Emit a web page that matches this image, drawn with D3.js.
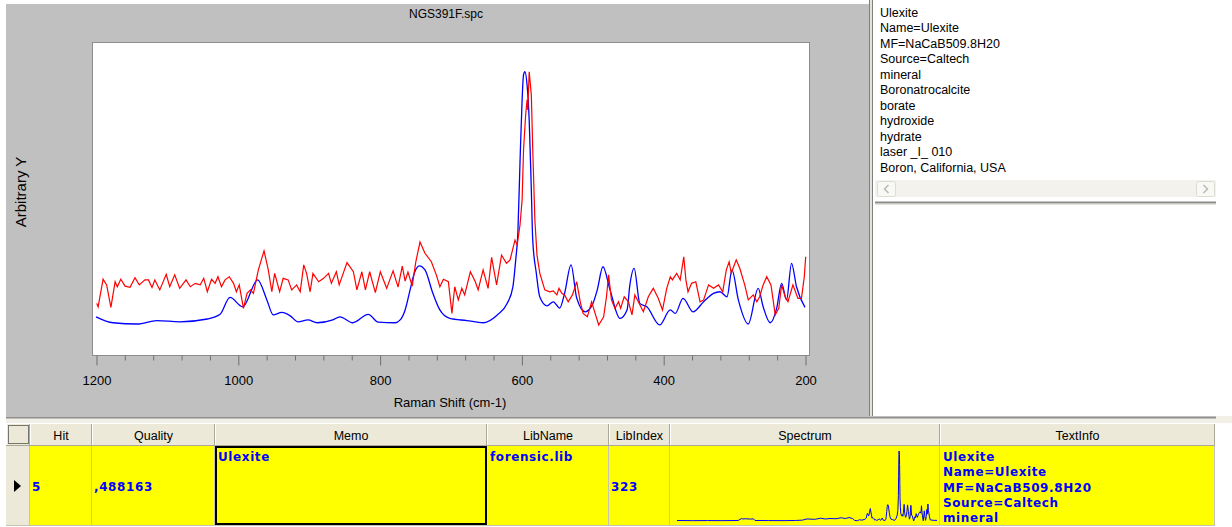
<!DOCTYPE html>
<html>
<head>
<meta charset="utf-8">
<script src="https://cdn.jsdelivr.net/npm/d3@7"></script>
<style>
  html, body { margin: 0; padding: 0; background: #fff; overflow: hidden; }
  svg { display: block; }
  text { font-family: "Liberation Sans", Arial, sans-serif; font-size: 12px; fill: #000; }
  .cell { font-family: "DejaVu Sans", Verdana, sans-serif; font-weight: bold; font-size: 12px; fill: #0000ff; letter-spacing: 0.6px; }
</style>
</head>
<body>
<svg id="chart" width="1232" height="527"></svg>
<script>
// Measured spectrum (red), Raman shift in cm-1 and arbitrary intensity
const sampleWave = [1199,1197,1190,1185,1179,1173,1170,1165,1159,1152,1145,1139,1131,1126,1121,1117,1110,1101,1096,1089,1082,1073,1067,1060,1053,1048,1043,1037,1032,1028,1023,1018,1012,1006,1002,998,992,987,982,978,971,963,957,952,948,941,936,929,924,917,912,907,903,898,894,886,879,872,868,861,857,846,837,832,825,820,814,806,799,790,781,774,768,764,760,754,749,743,736,727,720,715,710,703,698,694,689,684,680,672,665,661,654,647,642,635,628,621,616,609,606,602,599,597,594,592,591,589,586,584,581,578,574,567,560,555,550,547,543,539,534,528,522,517,513,507,501,496,491,484,480,477,473,468,463,460,455,449,444,440,434,428,421,414,407,401,395,390,387,381,376,371,368,365,360,354,348,343,336,329,322,316,311,307,304,297,292,285,280,273,268,264,259,254,248,242,237,233,228,224,217,210,205,201,199];
const sampleInt = [16.5,15.4,24.2,22.4,15.2,23.4,21.8,24.2,22.0,21.6,24.7,22.4,24.0,24.0,21.6,24.0,20.8,25.8,21.8,25.6,21.3,24.0,21.8,22.9,22.4,24.5,20.2,24.2,22.9,25.0,21.8,24.0,25.0,22.9,20.2,22.4,14.9,19.7,20.8,19.7,27.2,33.3,27.2,20.2,26.1,20.2,24.5,24.0,20.8,22.4,20.2,28.8,26.1,20.2,26.1,23.4,24.5,26.1,22.9,26.6,22.4,29.5,26.6,20.8,26.6,20.8,26.6,19.9,26.6,21.3,26.9,21.7,28.4,23.6,26.5,22.0,29.7,36.1,32.5,29.8,25.6,21.8,24.2,23.4,13.3,21.8,17.6,21.3,19.2,26.6,23.4,20.8,27.2,21.3,31.2,22.4,31.9,29.3,30.4,36.7,35.1,41.5,49.5,65.5,76.7,81.5,78.3,90.5,83.1,65.5,43.1,31.9,26.1,20.8,20.2,20.5,19.2,21.3,19.7,19.2,17.0,19.2,23.4,17.0,13.3,12.2,17.0,13.3,9.6,12.2,18.6,25.6,17.6,14.9,17.0,14.9,18.6,17.0,12.8,19.2,16.5,13.8,18.6,21.3,18.1,14.4,21.3,25.0,24.0,26.1,24.0,31.4,24.0,20.2,22.9,23.4,17.0,17.6,22.4,21.3,22.4,20.2,27.2,29.8,26.1,30.4,27.7,22.4,17.6,19.2,17.0,18.6,22.4,25.0,22.4,12.8,14.9,22.4,18.6,17.0,22.4,18.1,18.1,25.0,31.4];

// Library spectrum of the hit (blue)
const libWave = [1200,1176,1142,1114,1082,1043,1025,1011,993,972,959,950,938,926,915,901,888,866,856,838,816,802,778,771,764,757,751,744,736,725,715,701,677,654,634,620,612,608,605,602,599,597,595,592,589,586,584,579,574,564,555,546,539,530,522,510,500,493,485,475,461,451,447,441,433,423,405,390,383,372,358,343,329,320,310,303,294,280,266,259,249,240,233,226,219,212,200];
const libInt = [12.2,10.3,9.9,11.0,10.6,11.5,13.0,18.4,15.4,24.0,17.6,12.8,13.6,12.5,10.6,11.2,10.3,11.2,12.2,10.3,13.0,10.5,10.3,11.2,14.4,20.8,26.2,28.5,27.2,19.8,14.4,11.7,11.0,10.3,12.8,16.5,21.8,30.4,39.0,61.3,81.5,89.5,90.5,86.3,75.0,52.7,36.7,26.2,18.5,15.7,17.0,15.0,19.8,28.8,18.2,13.8,16.0,20.8,28.2,20.8,11.7,14.4,22.4,27.7,16.5,15.4,9.6,14.4,13.3,18.1,13.8,17.0,19.7,20.2,18.6,27.2,17.6,9.9,21.3,15.4,10.3,14.9,22.9,17.6,29.3,21.8,15.2];

// Library spectrum outside the 1200-200 window (shown only in the thumbnail)
const libHighWave = [3500,3300,3100,2900,2700,2660,2640,2600,2540,2500,2480,2300,2100,1950,1860,1800,1700,1620,1560,1500,1420,1350,1300,1250,1210];
const libHighInt = [10.2,10.0,10.1,10.0,10.2,12.3,12.0,12.2,11.8,12.1,10.2,10.1,10.0,10.2,10.6,12.0,11.5,12.8,11.9,12.5,12.2,13.4,12.4,13.6,12.6];
const libLowWave = [190,150,100];
const libLowInt = [11.0,10.4,10.3];

const xTicks = [1200, 1000, 800, 600, 400, 200];
const fileName = "NGS391F.spc";
const xLabel = "Raman Shift (cm-1)";
const yLabel = "Arbitrary Y";

// Text info of the library entry
const infoLines = ["Ulexite", "Name=Ulexite", "MF=NaCaB509.8H20", "Source=Caltech", "mineral",
  "Boronatrocalcite", "borate", "hydroxide", "hydrate", "laser _I_ 010", "Boron, California, USA"];

// Hit list
const columnNames = ["", "Hit", "Quality", "Memo", "LibName", "LibIndex", "Spectrum", "TextInfo"];
const hitValues = ["5", ",488163", "Ulexite", "forensic.lib", "323"];

const svg = d3.select("#chart");

// ---------- spectrum panel ----------
const plot = { left: 92, right: 809, top: 42, bottom: 355 };
svg.append("rect").attr("x", 6).attr("y", 4).attr("width", 863).attr("height", 412).attr("fill", "#c0c0c0");
svg.append("rect")
  .attr("x", plot.left + 0.5).attr("y", plot.top + 0.5)
  .attr("width", plot.right - plot.left).attr("height", plot.bottom - plot.top)
  .attr("fill", "#fff").attr("stroke", "#8c8c8c");

const x = d3.scaleLinear().domain([1200, 200]).range([96, 805]);
const y = d3.scaleLinear().domain([0, 100]).range([plot.bottom, plot.top]);

const axis = d3.axisBottom(x)
  .tickValues(d3.range(1200, 199, -40))
  .tickSize(10).tickPadding(10)
  .tickFormat(d => xTicks.includes(d) ? d : "");
const gx = svg.append("g").attr("transform", `translate(0.5,${plot.bottom + 0.5})`).call(axis);
gx.select(".domain").remove();
gx.selectAll(".tick line").attr("stroke", "#707070")
  .filter(d => !xTicks.includes(d)).attr("y2", 5);
gx.selectAll(".tick text")
  .style("font-family", '"Liberation Sans", Arial, sans-serif').style("font-size", "13px").attr("fill", "#000");

svg.append("text").attr("x", 446).attr("y", 18).attr("text-anchor", "middle").text(fileName);
svg.append("text").attr("x", 450).attr("y", 407).attr("text-anchor", "middle")
  .style("font-size", "13px").text(xLabel);
svg.append("text").attr("transform", "translate(26,192) rotate(-90)").attr("text-anchor", "middle")
  .style("font-size", "15px").text(yLabel);

const libPts = libWave.map((w, i) => [w, libInt[i]]);
const samplePts = sampleWave.map((w, i) => [w, sampleInt[i]]);

const clip = svg.append("clipPath").attr("id", "plotClip").append("rect")
  .attr("x", plot.left + 1).attr("y", plot.top + 1)
  .attr("width", plot.right - plot.left - 1).attr("height", plot.bottom - plot.top - 1);

const gLines = svg.append("g").attr("clip-path", "url(#plotClip)");
gLines.append("path").datum(libPts)
  .attr("d", d3.line().x(d => x(d[0])).y(d => y(d[1])).curve(d3.curveMonotoneX))
  .attr("fill", "none").attr("stroke", "#0000ff").attr("stroke-width", 1.3);
gLines.append("path").datum(samplePts)
  .attr("d", d3.line().x(d => x(d[0])).y(d => y(d[1])))
  .attr("fill", "none").attr("stroke", "#ff0000").attr("stroke-width", 1.2);

// ---------- info panel ----------
svg.append("rect").attr("x", 869).attr("y", 0).attr("width", 4).attr("height", 417).attr("fill", "#e4e2da");
svg.append("line").attr("x1", 869.5).attr("x2", 869.5).attr("y1", 0).attr("y2", 417).attr("stroke", "#808080");
svg.append("line").attr("x1", 872.5).attr("x2", 872.5).attr("y1", 0).attr("y2", 417).attr("stroke", "#808080");

svg.append("g").selectAll("text").data(infoLines).join("text")
  .attr("x", 880).attr("y", (d, i) => 17 + i * 15.45)
  .style("font-size", "12.5px").text(d => d);

// horizontal scroll bar
svg.append("rect").attr("x", 875).attr("y", 180).attr("width", 341).attr("height", 17).attr("fill", "#f3f2ec");
[877, 1196].forEach((bx, i) => {
  svg.append("rect").attr("x", bx + 0.5).attr("y", 181.5).attr("width", 18).attr("height", 15)
    .attr("rx", 2).attr("fill", "#f8f8f4").attr("stroke", "#dedcd2");
  const cx = bx + 9.5, cy = 189;
  const p = i === 0 ? `M${cx + 2},${cy - 4} L${cx - 2},${cy} L${cx + 2},${cy + 4}`
                    : `M${cx - 2},${cy - 4} L${cx + 2},${cy} L${cx - 2},${cy + 4}`;
  svg.append("path").attr("d", p).attr("fill", "none").attr("stroke", "#b8b8b8").attr("stroke-width", 1.5);
});
svg.append("line").attr("x1", 875).attr("x2", 1216).attr("y1", 202.5).attr("y2", 202.5).attr("stroke", "#8a8a8a").attr("stroke-width", 2);
svg.append("line").attr("x1", 875).attr("x2", 1216).attr("y1", 204.5).attr("y2", 204.5).attr("stroke", "#e6e4dc");

// splitter between panels and hit list
svg.append("rect").attr("x", 6).attr("y", 416).attr("width", 1226).attr("height", 7).attr("fill", "#f1efe6");
svg.append("line").attr("x1", 6).attr("x2", 1216).attr("y1", 417.5).attr("y2", 417.5).attr("stroke", "#8f8f8f").attr("stroke-width", 2);

// ---------- hit list ----------
const edges = [6, 30, 92, 215, 487, 609, 670, 940, 1215];
const headTop = 423, headBot = 446, rowBot = 526;

const head = svg.append("g");
columnNames.forEach((name, i) => {
  const x0 = edges[i], x1 = edges[i + 1];
  head.append("rect").attr("x", x0).attr("y", headTop).attr("width", x1 - x0).attr("height", headBot - headTop)
    .attr("fill", "#ece9d8");
  head.append("line").attr("x1", x0 + 0.5).attr("x2", x0 + 0.5).attr("y1", headTop).attr("y2", headBot).attr("stroke", "#fff");
  head.append("line").attr("x1", x1 - 0.5).attr("x2", x1 - 0.5).attr("y1", headTop).attr("y2", headBot).attr("stroke", "#aca899");
  head.append("text").attr("x", (x0 + x1) / 2).attr("y", 440).attr("text-anchor", "middle")
    .style("font-size", "12.5px").text(name);
});
head.append("line").attr("x1", 6).attr("x2", 1215).attr("y1", headBot - 0.5).attr("y2", headBot - 0.5).attr("stroke", "#aca899");
head.append("line").attr("x1", 6).attr("x2", 1215).attr("y1", headTop + 0.5).attr("y2", headTop + 0.5).attr("stroke", "#fff");
head.append("rect").attr("x", 8.5).attr("y", 425.5).attr("width", 20).attr("height", 18)
  .attr("fill", "none").attr("stroke", "#000").attr("stroke-dasharray", "1,1");

// data row
const row = svg.append("g");
row.append("rect").attr("x", edges[0]).attr("y", headBot).attr("width", edges[1] - edges[0]).attr("height", rowBot - headBot).attr("fill", "#ece9d8");
row.append("rect").attr("x", edges[1]).attr("y", headBot).attr("width", edges[8] - edges[1]).attr("height", rowBot - headBot).attr("fill", "#ffff00");
edges.slice(1).forEach(e => {
  row.append("line").attr("x1", e - 0.5).attr("x2", e - 0.5).attr("y1", headBot).attr("y2", rowBot).attr("stroke", "#c4c4b4");
});
row.append("line").attr("x1", 6).attr("x2", 1215).attr("y1", rowBot - 0.5).attr("y2", rowBot - 0.5).attr("stroke", "#c4c4b4");
row.append("path").attr("d", "M14,480 L21,486 L14,492 Z").attr("fill", "#000");

const midBase = 491, topBase = 461;
row.append("text").attr("class", "cell").attr("x", 32).attr("y", midBase).text(hitValues[0]);
row.append("text").attr("class", "cell").attr("x", 94).attr("y", midBase).text(hitValues[1]);
row.append("text").attr("class", "cell").attr("x", 218).attr("y", topBase).text(hitValues[2]);
row.append("text").attr("class", "cell").attr("x", 490).attr("y", topBase).text(hitValues[3]);
row.append("text").attr("class", "cell").attr("x", 611).attr("y", midBase).text(hitValues[4]);
row.append("g").selectAll("text").data(infoLines.slice(0, 5)).join("text")
  .attr("class", "cell").attr("x", 943).attr("y", (d, i) => topBase + i * 15.3).text(d => d);

// focused memo cell
row.append("rect").attr("x", 216).attr("y", 447).attr("width", 270).attr("height", 77)
  .attr("fill", "none").attr("stroke", "#000").attr("stroke-width", 2);

// thumbnail of the full library spectrum
const thumbPts = libHighWave.map((w, i) => [w, libHighInt[i]])
  .concat(libPts)
  .concat(libLowWave.map((w, i) => [w, libLowInt[i]]));
const tx = d3.scaleLinear().domain([3500, 100]).range([677, 937]);
const ty = d3.scaleLinear().domain(d3.extent(thumbPts, d => d[1])).range([521, 451]);
row.append("path").datum(thumbPts)
  .attr("d", d3.line().x(d => tx(d[0])).y(d => ty(d[1])))
  .attr("fill", "none").attr("stroke", "#0000ff").attr("stroke-width", 1);
</script>
</body>
</html>
